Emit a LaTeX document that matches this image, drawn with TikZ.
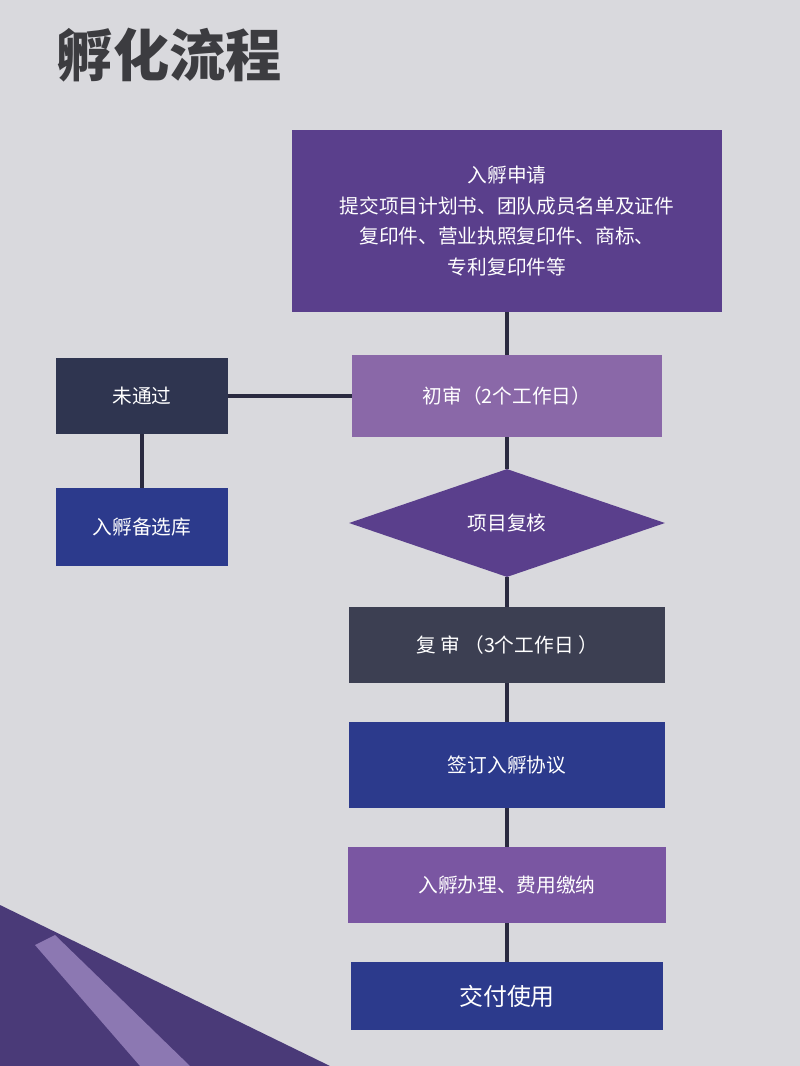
\documentclass[tikz,border=0pt]{standalone}
\usepackage{fontspec}
\setmainfont{Noto Sans CJK SC}
\usetikzlibrary{shapes.geometric}
\definecolor{bgc}{HTML}{D9D9DD}
\definecolor{deeppurple}{HTML}{5A3F8C}
\definecolor{lightpurple}{HTML}{8A68A8}
\definecolor{midpurple}{HTML}{7A56A2}
\definecolor{navy}{HTML}{2F3550}
\definecolor{slate}{HTML}{3C3F52}
\definecolor{royal}{HTML}{2C3A8C}
\definecolor{linec}{HTML}{2A2A40}
\definecolor{cornerdark}{HTML}{4A3A78}
\definecolor{cornerlight}{HTML}{8C78B2}
\definecolor{titlec}{HTML}{3C3C40}
\tikzset{
  box/.style={draw=none, text=white, align=center, font=\fontsize{14}{22}\selectfont, inner sep=0pt},
  conn/.style={draw=linec, line width=1.1mm}
}
\begin{document}
\begin{tikzpicture}[x=0.025cm, y=-0.025cm]
	\useasboundingbox (0,0) rectangle (800,1066);
	\fill[bgc] (0,0) rectangle (800,1066);
	% decoration at the bottom left
	\fill[cornerdark] (0,905) -- (330,1066) -- (0,1066) -- cycle;
	\fill[cornerlight] (55,935) -- (190,1066) -- (140,1066) -- (35,945) -- cycle;

	\node[font=\fontsize{40}{44}\selectfont\bfseries, text=titlec, anchor=west] (title) at (52,55) {孵化流程};

	\node[box, fill=deeppurple, minimum width=10.75cm, minimum height=4.55cm] (apply) at (507,221)
		{入孵申请\\提交项目计划书、团队成员名单及证件\\复印件、营业执照复印件、商标、\\专利复印件等};
	\node[box, fill=lightpurple, minimum width=7.75cm, minimum height=2.05cm] (first) at (507,396) {初审（2个工作日）};
	\node[box, fill=navy, minimum width=4.3cm, minimum height=1.9cm] (fail) at (142,396) {未通过};
	\node[box, fill=royal, minimum width=4.3cm, minimum height=1.95cm] (pool) at (142,527) {入孵备选库};
	\node[box, diamond, aspect=2.9, fill=deeppurple, minimum width=7.9cm, minimum height=2.7cm] (review) at (507,523) {项目复核};
	\node[box, fill=slate, minimum width=7.9cm, minimum height=1.9cm] (second) at (507,645) {复 审 （3个工作日 ）};
	\node[box, fill=royal, minimum width=7.9cm, minimum height=2.15cm] (sign) at (507,765) {签订入孵协议};
	\node[box, fill=midpurple, minimum width=7.95cm, minimum height=1.9cm] (handle) at (507,885) {入孵办理、费用缴纳};
	\node[box, fill=royal, minimum width=7.8cm, minimum height=1.7cm, font=\fontsize{17}{20}\selectfont] (deliver) at (507,996) {交付使用};

	\draw[conn] (apply) -- (first);
	\draw[conn] (fail) -- (first);
	\draw[conn] (fail) -- (pool);
	\draw[conn] (first) -- (review);
	\draw[conn] (review) -- (second);
	\draw[conn] (second) -- (sign);
	\draw[conn] (sign) -- (handle);
	\draw[conn] (handle) -- (deliver);
\end{tikzpicture}
\end{document}
